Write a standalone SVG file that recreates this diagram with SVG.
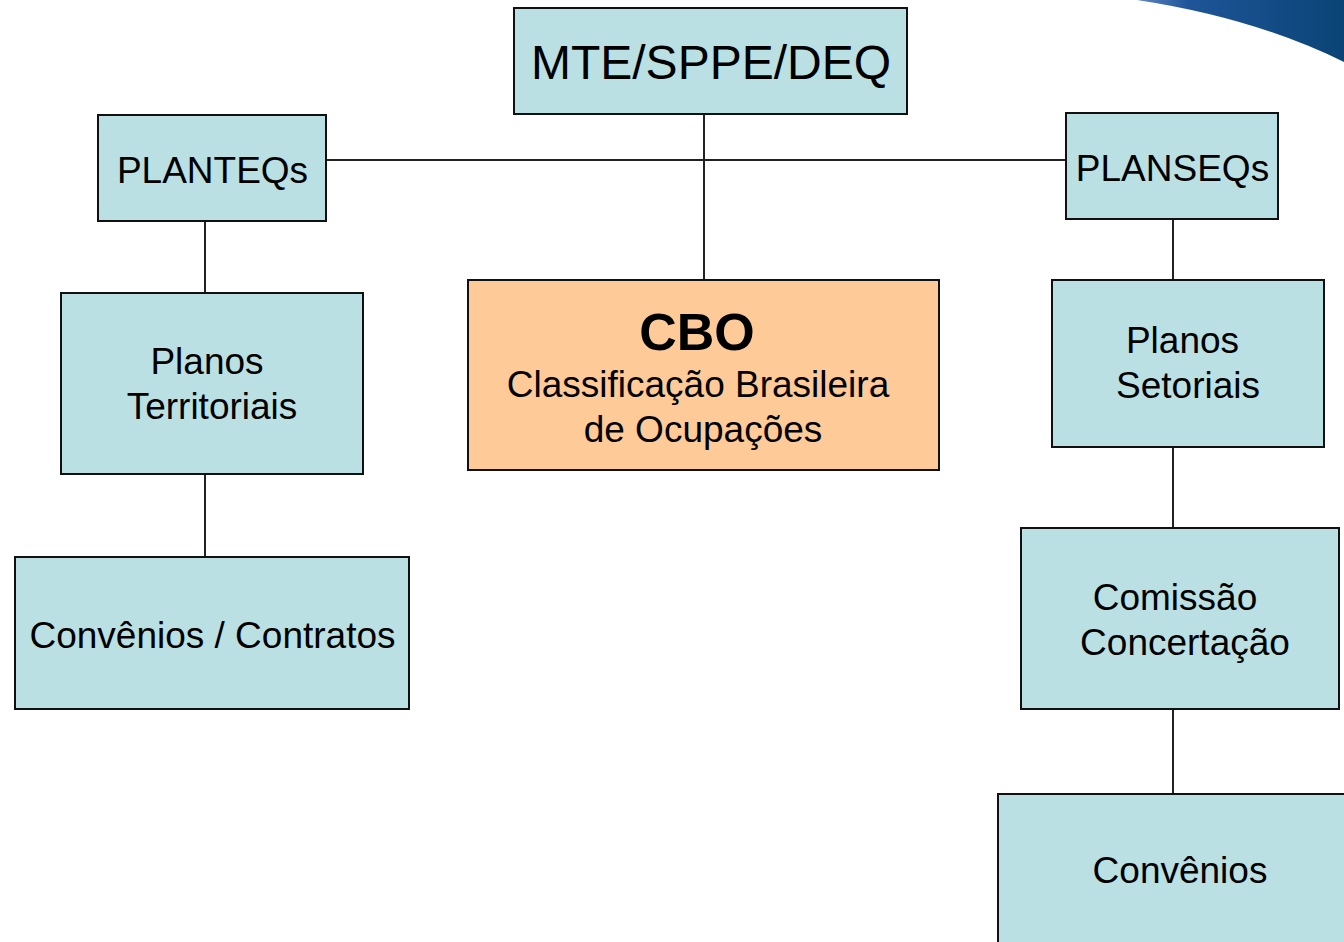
<svg xmlns="http://www.w3.org/2000/svg" width="1344" height="942" viewBox="0 0 1344 942">
<style>
.box{fill:#BBE0E3;stroke:#111;stroke-width:2}
.cbo{fill:#FDCA98;stroke:#111;stroke-width:2}
.t{font-family:"Liberation Sans",Arial,sans-serif;font-size:37px;fill:#000;text-anchor:middle}
.conn line{stroke:#222;stroke-width:2}
</style>
<defs>
<linearGradient id="sw" x1="0" y1="0" x2="1" y2="0">
<stop offset="0" stop-color="#5f86c4"/>
<stop offset="0.25" stop-color="#1d5598"/>
<stop offset="1" stop-color="#0a4475"/>
</linearGradient>
</defs>
<rect width="1344" height="942" fill="#fff"/>
<path d="M1137,0 Q1255,18 1344,62 L1344,0 Z" fill="url(#sw)"/>
<g class="conn">
<line x1="326" y1="160" x2="1066" y2="160"/>
<line x1="704" y1="114" x2="704" y2="280"/>
<line x1="205" y1="221" x2="205" y2="293"/>
<line x1="205" y1="474" x2="205" y2="557"/>
<line x1="1173" y1="219" x2="1173" y2="280"/>
<line x1="1173" y1="447" x2="1173" y2="528"/>
<line x1="1173" y1="709" x2="1173" y2="794"/>
</g>
<g id="mte">
<rect class="box" x="514" y="8" width="393" height="106"/>
<text class="t" x="711" y="79" style="font-size:48px">MTE/SPPE/DEQ</text>
</g>
<g id="planteqs">
<rect class="box" x="98" y="115" width="228" height="106"/>
<text class="t" x="212.5" y="183">PLANTEQs</text>
</g>
<g id="planseqs">
<rect class="box" x="1066" y="113" width="212" height="106"/>
<text class="t" x="1172.5" y="181">PLANSEQs</text>
</g>
<g id="cbo">
<rect class="cbo" x="468" y="280" width="471" height="190"/>
<text class="t" x="697" y="350" style="font-size:52px;font-weight:bold">CBO</text>
<text class="t" x="698" y="397">Classificação Brasileira</text>
<text class="t" x="703" y="442">de Ocupações</text>
</g>
<g id="planos-territoriais">
<rect class="box" x="61" y="293" width="302" height="181"/>
<text class="t" x="207" y="374">Planos</text>
<text class="t" x="212" y="419">Territoriais</text>
</g>
<g id="convenios-contratos">
<rect class="box" x="15" y="557" width="394" height="152"/>
<text class="t" x="212.5" y="648">Convênios / Contratos</text>
</g>
<g id="planos-setoriais">
<rect class="box" x="1052" y="280" width="272" height="167"/>
<text class="t" x="1182.5" y="353">Planos</text>
<text class="t" x="1188" y="398">Setoriais</text>
</g>
<g id="comissao">
<rect class="box" x="1021" y="528" width="318" height="181"/>
<text class="t" x="1175" y="610">Comissão</text>
<text class="t" x="1185" y="655">Concertação</text>
</g>
<g id="convenios">
<rect class="box" x="998" y="794" width="360" height="160"/>
<text class="t" x="1180" y="883">Convênios</text>
</g>
</svg>
